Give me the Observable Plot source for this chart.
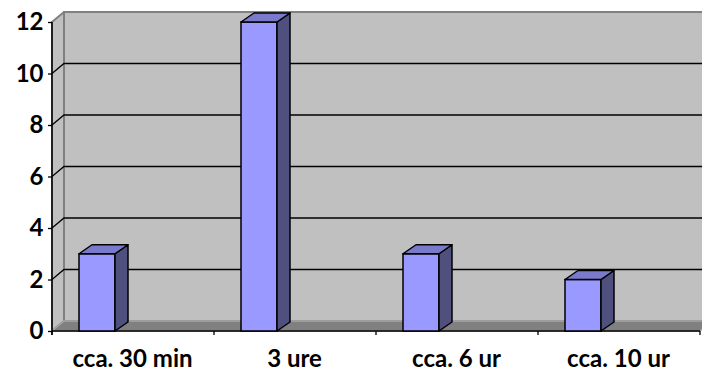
<!DOCTYPE html>
<html>
<head>
<meta charset="utf-8">
<script src="https://cdn.jsdelivr.net/npm/d3@7"></script>
<script src="https://cdn.jsdelivr.net/npm/@observablehq/plot@0.6"></script>
<style>
  html, body { margin: 0; padding: 0; background: #fff; }
</style>
</head>
<body>
<div id="chart"></div>
<script>
// Number of cases per time interval
const categories = ["cca. 30 min", "3 ure", "cca. 6 ur", "cca. 10 ur"];
const counts = [3, 12, 3, 2];
const yTicks = [0, 2, 4, 6, 8, 10, 12];

const data = categories.map((category, i) => ({category, count: counts[i]}));

// Pseudo-3D depth of the wall box and of the columns (screen pixels)
const wall = {dx: 12, dy: -10};
const col = {dx: 13, dy: -9};
const colInset = 27, colWidth = 36;

const font = "Lato, 'Open Sans', sans-serif";
const fontSize = 24;

const NS = "http://www.w3.org/2000/svg";
function el(tag, attrs) {
  const node = document.createElementNS(NS, tag);
  for (const [k, v] of Object.entries(attrs)) node.setAttribute(k, v);
  return node;
}
const pts = (p) => p.map(([a, b]) => `${a},${b}`).join(" ");

// Back wall, side wall, floor and gridlines, placed with the plot scales
function walls(index, scales, values, dimensions) {
  const {x, y} = scales;
  const {width, marginLeft, marginRight} = dimensions;
  const x0 = marginLeft, x1 = width - marginRight;
  const yTop = y(d3.max(yTicks)), yBot = y(0);
  const g = el("g", {});
  g.append(el("rect", {
    x: x0 + wall.dx, y: yTop + wall.dy, width: x1 - x0, height: yBot - yTop,
    fill: "#c0c0c0", stroke: "#808080", "stroke-width": 2
  }));
  g.append(el("polygon", {
    points: pts([[x0, yTop], [x0 + wall.dx, yTop + wall.dy], [x0 + wall.dx, yBot + wall.dy], [x0, yBot]]),
    fill: "#c0c0c0", stroke: "#808080", "stroke-width": 2, "stroke-linejoin": "round"
  }));
  for (const t of yTicks.slice(1, -1)) {
    const yy = y(t);
    g.append(el("polyline", {
      points: pts([[x0, yy], [x0 + wall.dx, yy + wall.dy], [x1 + wall.dx, yy + wall.dy]]),
      fill: "none", stroke: "#000", "stroke-width": 1.3
    }));
  }
  g.append(el("polygon", {
    points: pts([[x0, yBot], [x0 + wall.dx, yBot + wall.dy], [x1 + wall.dx, yBot + wall.dy], [x1, yBot]]),
    fill: "#808080", stroke: "#a6a6a6", "stroke-width": 1.5
  }));
  // category separators below the floor edge
  const step = x.step ? x.step() : x.bandwidth();
  for (const c of categories) {
    const xx = x(c);
    g.append(el("line", {x1: xx, x2: xx, y1: yBot, y2: yBot + 4, stroke: "#000", "stroke-width": 1.3}));
  }
  g.append(el("line", {x1: x0 + categories.length * step, x2: x0 + categories.length * step, y1: yBot, y2: yBot + 4, stroke: "#000", "stroke-width": 1.3}));
  // front axis lines
  g.append(el("line", {x1: x0, x2: x0, y1: yTop, y2: yBot + 4, stroke: "#000", "stroke-width": 1.5}));
  g.append(el("line", {x1: x0, x2: x1, y1: yBot, y2: yBot, stroke: "#000", "stroke-width": 1.5}));
  return g;
}

// Top and right faces of each column
function columnFaces(index, scales) {
  const {x, y} = scales;
  const g = el("g", {stroke: "#000", "stroke-width": 1.5, "stroke-linejoin": "round"});
  for (const d of data) {
    const xl = x(d.category) + colInset, xr = xl + colWidth;
    const yt = y(d.count), yb = y(0);
    g.append(el("polygon", {
      points: pts([[xr, yb], [xr + col.dx, yb + col.dy], [xr + col.dx, yt + col.dy], [xr, yt]]),
      fill: "#50507f"
    }));
    g.append(el("polygon", {
      points: pts([[xl, yt], [xl + col.dx, yt + col.dy], [xr + col.dx, yt + col.dy], [xr, yt]]),
      fill: "#7a7acc"
    }));
  }
  return g;
}

const chart = Plot.plot({
  width: 702,
  height: 372,
  marginLeft: 52,
  marginRight: 2,
  marginTop: 22,
  marginBottom: 41,
  style: {fontFamily: font, fontSize: `${fontSize}px`, fontWeight: "bold", color: "#000", background: "#fff"},
  x: {domain: categories, padding: 0, label: null},
  y: {domain: [0, 12], label: null},
  marks: [
    walls,
    Plot.barY(data, {
      x: "category", y: "count",
      insetLeft: colInset, insetRight: 162 - colInset - colWidth,
      fill: "#9999ff", stroke: "#000", strokeWidth: 1.5
    }),
    columnFaces,
    Plot.axisY({
      ticks: yTicks, tickSize: 4, tickPadding: 5, stroke: "#000", strokeWidth: 1.3,
      fontSize, fontWeight: "bold", fontFamily: font, fill: "#000", label: null
    }),
    Plot.axisX({
      tickSize: 0, tickPadding: 18, dx: -1,
      fontSize, fontWeight: "bold", fontFamily: font, fill: "#000", label: null
    })
  ]
});

document.getElementById("chart").append(chart);
</script>
</body>
</html>
